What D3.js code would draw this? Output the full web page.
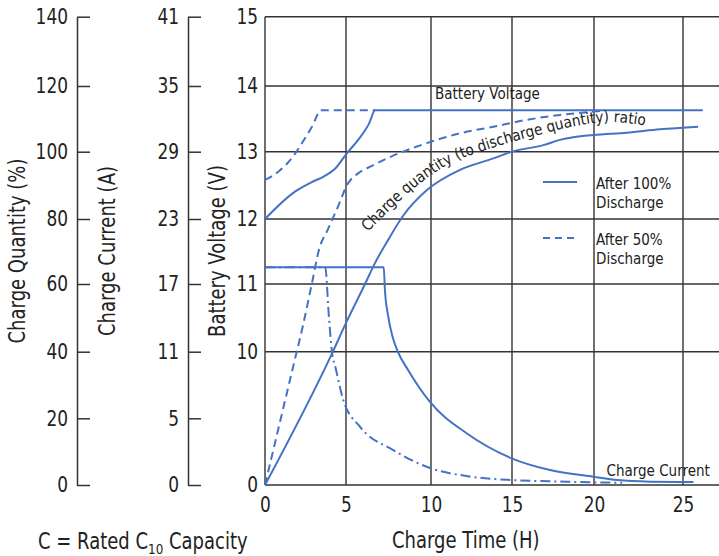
<!DOCTYPE html>
<html>
<head>
<meta charset="utf-8">
<script src="https://cdn.jsdelivr.net/npm/d3@7"></script>
<style>
  body { margin: 0; background: #fff; }
  svg { display: block; font-family: "DejaVu Sans", Verdana, sans-serif; }
  text { fill: #222; }
</style>
</head>
<body>
<div id="chart"></div>
<script>
// tick values of the four axes
const timeTicks = [0, 5, 10, 15, 20, 25];
const voltTicks = [0, 10, 11, 12, 13, 14, 15];
const pctTicks = [0, 20, 40, 60, 80, 100, 120, 140];
const ampTicks = [0, 5, 11, 17, 23, 29, 35, 41];

// battery voltage (V) vs charge time (H)
const voltFull = [[0, 12.0], [1.87, 12.41], [2.9, 12.55], [3.62, 12.63], [4.34, 12.75], [5.06, 12.98],
  [5.75, 13.19], [6.34, 13.42], [6.72, 13.63], [26.1, 13.63]];
const voltHalf = [[0, 12.58], [0.91, 12.72], [1.67, 12.91], [2.28, 13.13], [2.9, 13.38], [3.46, 13.63], [6.72, 13.63]];

// charge quantity (%) vs charge time (H)
const qtyFull = [[0, 0], [4.14, 39.5], [5.0, 48.5], [6.12, 60], [6.71, 66.5], [7.47, 73.5], [8.35, 80.9],
  [9.76, 88.6], [11.79, 94.6], [13.85, 98.0], [14.98, 100], [16.91, 102.0], [17.93, 103.6], [18.74, 104.4],
  [19.96, 105.1], [21.84, 105.8], [23.71, 106.8], [25.84, 107.6]];
const qtyHalf = [[0, 0], [1.79, 36.6], [2.35, 47.9], [2.9, 60.3], [3.33, 70.5], [3.89, 76.9], [4.55, 84.2],
  [5.06, 90.1], [5.75, 93.7], [6.53, 95.8], [7.59, 98.4], [9.75, 102.6], [11.79, 105.6], [13.85, 107.6],
  [15.9, 109.7], [17.93, 111.2], [19.96, 112.2], [20.51, 112.5]];

// charge current (A) vs charge time (H)
const ampFull = [[0, 18.54], [7.22, 18.54], [7.29, 16.47], [7.47, 14.25], [7.71, 12.48], [8.06, 10.97],
  [8.65, 9.35], [9.94, 6.47], [12.2, 3.88], [14.98, 2.0], [17.32, 1.12], [19.96, 0.62], [21.31, 0.37],
  [23.15, 0.25], [25.58, 0.22]];
const ampHalf = [[0, 18.54], [3.72, 18.54], [3.93, 14.4], [4.14, 10.86], [4.34, 9.65], [4.83, 6.65],
  [5.82, 4.37], [7.78, 2.62], [9.94, 1.27], [12.2, 0.67], [14.98, 0.37], [18.3, 0.25], [19.96, 0.2], [21.58, 0.17]];

// baseline of the curved "ratio" caption, in (H, %)
const ratioPath = [[6.29, 76.0], [7.71, 83.3], [9.0, 89.2], [10.31, 94.0], [11.6, 97.5], [13.2, 100.2],
  [15, 103.0], [16.83, 105.4], [18.84, 107.8], [20.9, 109.1], [23.03, 107.8]];
const ratioWords = ["Charge quantity (to discharge", " quantity) ratio"];

const legendLabels = [["After 100%", "Discharge"], ["After 50%", "Discharge"]];

const W = 719, H = 556;
const stretch = 1.24;      // source font is taller than DejaVu
const blue = "#4472C4";
const ink = "#333";

const svg = d3.select("#chart").append("svg")
  .attr("width", W)
  .attr("height", H);

// the grid rows are shared by all three y axes
const rows = [485, 418.3, 351.7, 284, 219, 151.7, 86, 16.7];
const x = d3.scaleLinear().domain([0, 5, 10, 15, 20, 25, 27]).range([265, 346, 431, 512, 594, 683, 719]);
const yV = d3.scaleLinear().domain(voltTicks).range(rows.filter((r, i) => i !== 1));
const yPct = d3.scaleLinear().domain(pctTicks).range(rows);
const yAmp = d3.scaleLinear().domain(ampTicks).range(rows);

function label (str, px, py, size, opts = {}) {
  return svg.append("text")
    .attr("transform", `translate(${px},${py})` + (opts.rotate ? ` rotate(${opts.rotate})` : "") + ` scale(1,${opts.sy || stretch})`)
    .attr("text-anchor", opts.anchor || "start")
    .style("font-size", size + "px")
    .text(str);
}

function styleAxis (g) {
  g.attr("font-size", null).attr("font-family", null);
  g.select(".domain").attr("stroke", ink).attr("stroke-width", 1.5);
  g.selectAll(".tick line").attr("stroke", ink).attr("stroke-width", 1.5);
  g.selectAll(".tick text")
    .attr("fill", "#222")
    .style("font-size", "17px")
    .attr("transform", `scale(1,${stretch})`);
}

// grid
const grid = svg.append("g").attr("stroke", ink).attr("stroke-width", 1.4);
grid.selectAll(".vline")
  .data(timeTicks)
  .enter().append("line")
  .attr("x1", d => x(d)).attr("x2", d => x(d))
  .attr("y1", yV(15)).attr("y2", yV(0));
grid.selectAll(".hline")
  .data(voltTicks)
  .enter().append("line")
  .attr("x1", x(0)).attr("x2", x(27))
  .attr("y1", d => yV(d)).attr("y2", d => yV(d));

// left axes
svg.append("g")
  .attr("transform", "translate(77,0)")
  .call(d3.axisLeft(yPct).tickValues(pctTicks).tickSizeInner(-13).tickSizeOuter(0).tickPadding(9))
  .call(styleAxis);

svg.append("g")
  .attr("transform", "translate(188,0)")
  .call(d3.axisLeft(yAmp).tickValues(ampTicks).tickSizeInner(-13).tickSizeOuter(0).tickPadding(9))
  .call(styleAxis);

svg.append("g")
  .attr("transform", `translate(${x(0)},0)`)
  .call(d3.axisLeft(yV).tickValues(voltTicks).tickSize(0).tickPadding(7))
  .call(styleAxis)
  .call(g => g.select(".domain").remove());

svg.append("g")
  .attr("transform", `translate(0,${yV(0)})`)
  .call(d3.axisBottom(x).tickValues(timeTicks).tickSize(0).tickPadding(10))
  .call(styleAxis)
  .call(g => g.select(".domain").remove());

// axis titles
label("Charge Quantity (%)", 25, 251, 18, { rotate: -90, anchor: "middle" });
label("Charge Current (A)", 115, 251, 18, { rotate: -90, anchor: "middle" });
label("Battery Voltage (V)", 225, 251, 18, { rotate: -90, anchor: "middle" });
label("Charge Time (H)", 392, 548, 18);

let note = label("C = Rated C", 38, 549, 18);
note.append("tspan").attr("dy", 4).style("font-size", "12px").text("10");
note.append("tspan").attr("dy", -4).text(" Capacity");

// curves
const curve = (ys) => d3.line()
  .x(d => x(d[0]))
  .y(d => ys(d[1]))
  .curve(d3.curveMonotoneX);

const series = [
  { data: qtyHalf, y: yPct, dash: "8,5" },
  { data: voltHalf, y: yV, dash: "8,5" },
  { data: ampHalf, y: yAmp, dash: "10,4,2,4" },
  { data: qtyFull, y: yPct, dash: null },
  { data: voltFull, y: yV, dash: null },
  { data: ampFull, y: yAmp, dash: null }
];

svg.append("g").selectAll("path")
  .data(series)
  .enter().append("path")
  .attr("d", d => curve(d.y)(d.data))
  .attr("fill", "none")
  .attr("stroke", blue)
  .attr("stroke-width", 2)
  .attr("stroke-dasharray", d => d.dash);

// annotations
label("Battery Voltage", x(10.25), yV(13.8), 13.5, { sy: 1.2 });
label("Charge Current", x(20.7), yAmp(0.65), 13.5, { sy: 1.2 });

// curved caption, squeezed to the length of its guide path
const ratioGuide = svg.append("path")
  .attr("id", "ratioPath")
  .attr("d", d3.line().x(d => x(d[0])).y(d => yPct(d[1])).curve(d3.curveCatmullRom)(ratioPath))
  .attr("fill", "none");

const probe = svg.append("text").style("font-size", "15.5px").style("white-space", "pre");
const natural = ratioWords.map(w => probe.text(w).node().getComputedTextLength());
probe.remove();
const squeeze = (ratioGuide.node().getTotalLength() - 3) / d3.sum(natural);

let offset = 0;
ratioWords.forEach((w, i) => {
  svg.append("text")
    .style("font-size", "15.5px")
    .style("white-space", "pre")
    .append("textPath")
    .attr("href", "#ratioPath")
    .attr("startOffset", offset)
    .attr("textLength", natural[i] * squeeze)
    .attr("lengthAdjust", "spacingAndGlyphs")
    .text(w);
  offset += natural[i] * squeeze;
});

// legend
const legend = svg.append("g").attr("transform", "translate(543,182)");
const items = legend.selectAll(".item")
  .data(legendLabels)
  .enter().append("g")
  .attr("class", "item")
  .attr("transform", (d, i) => `translate(0,${i * 56})`);

items.append("line")
  .attr("x1", 0).attr("x2", 34)
  .attr("stroke", blue)
  .attr("stroke-width", 2)
  .attr("stroke-dasharray", (d, i) => i ? "7,5" : null);

items.selectAll("text")
  .data(d => d)
  .enter().append("text")
  .attr("transform", (d, i) => `translate(53,${6.5 + i * 19.2}) scale(1,1.15)`)
  .style("font-size", "13.5px")
  .text(d => d);
</script>
</body>
</html>
